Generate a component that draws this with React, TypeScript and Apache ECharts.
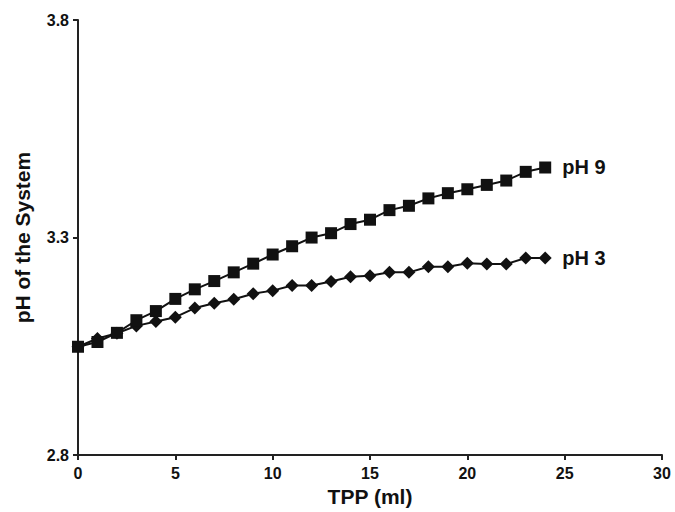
import React, { useEffect, useRef } from "react";
import * as echarts from "echarts";

const xValues = [0, 1, 2, 3, 4, 5, 6, 7, 8, 9, 10, 11, 12, 13, 14, 15, 16, 17, 18, 19, 20, 21, 22, 23, 24];
const ph9 = [3.049, 3.06, 3.081, 3.11, 3.131, 3.159, 3.181, 3.2, 3.22, 3.24, 3.261, 3.28, 3.3, 3.31, 3.331, 3.341, 3.363, 3.373, 3.39, 3.402, 3.411, 3.421, 3.431, 3.451, 3.461];
const ph3 = [3.049, 3.068, 3.08, 3.097, 3.107, 3.117, 3.138, 3.149, 3.158, 3.171, 3.178, 3.19, 3.19, 3.199, 3.21, 3.212, 3.22, 3.22, 3.233, 3.233, 3.241, 3.239, 3.239, 3.253, 3.253];
const seriesNames = ["pH 9", "pH 3"];
const xTitle = "TPP (ml)";
const yTitle = "pH of the System";

export default function App() {
  const ref = useRef<HTMLDivElement>(null);
  useEffect(() => {
    if (!ref.current) return;
    const chart = echarts.init(ref.current, null, { renderer: "svg" });
    const font = "'Liberation Sans', Arial, Helvetica, sans-serif";
    const axisColor = "#222";
    const mk = (vals: number[]) => xValues.map((x, i) => [x, vals[i]]);
    const endLabel = {
      show: true,
      formatter: "{a}",
      distance: 17,
      fontFamily: font,
      fontWeight: "bold" as const,
      fontSize: 20,
      color: "#111",
    };
    chart.setOption({
      animation: false,
      backgroundColor: "#fff",
      grid: { left: 78, right: 13, top: 20, bottom: 55, containLabel: false },
      xAxis: {
        type: "value",
        min: 0,
        max: 30,
        interval: 5,
        name: xTitle,
        nameLocation: "middle",
        nameGap: 29,
        nameTextStyle: { fontFamily: font, fontWeight: "bold", fontSize: 21, color: "#111" },
        axisLine: { show: true, lineStyle: { color: axisColor, width: 2 } },
        axisTick: { show: true, length: 5, lineStyle: { color: axisColor, width: 2 } },
        axisLabel: { fontFamily: font, fontWeight: "bold", fontSize: 16, color: "#111", margin: 10 },
        splitLine: { show: false },
      },
      yAxis: {
        type: "value",
        min: 2.8,
        max: 3.8,
        interval: 0.5,
        name: yTitle,
        nameLocation: "middle",
        nameGap: 45,
        nameRotate: 90,
        nameTextStyle: { fontFamily: font, fontWeight: "bold", fontSize: 21, color: "#111" },
        axisLine: { show: true, lineStyle: { color: axisColor, width: 2 } },
        axisTick: { show: true, length: 5, lineStyle: { color: axisColor, width: 2 } },
        axisLabel: {
          fontFamily: font,
          fontWeight: "bold",
          fontSize: 16,
          color: "#111",
          margin: 9,
          formatter: (v: number) => v.toFixed(1),
        },
        splitLine: { show: false },
      },
      series: [
        {
          name: seriesNames[0],
          type: "line",
          data: mk(ph9),
          symbol: "rect",
          symbolSize: 12,
          itemStyle: { color: "#111" },
          lineStyle: { color: "#111", width: 2 },
          endLabel,
          z: 3,
        },
        {
          name: seriesNames[1],
          type: "line",
          data: mk(ph3),
          symbol: "diamond",
          symbolSize: [13, 13],
          itemStyle: { color: "#111" },
          lineStyle: { color: "#111", width: 2 },
          endLabel,
          z: 2,
        },
      ],
    });
    return () => chart.dispose();
  }, []);
  return (
    <div
      ref={ref}
      style={{ position: "fixed", left: 0, top: 0, width: 675, height: 512, background: "#fff" }}
    />
  );
}
